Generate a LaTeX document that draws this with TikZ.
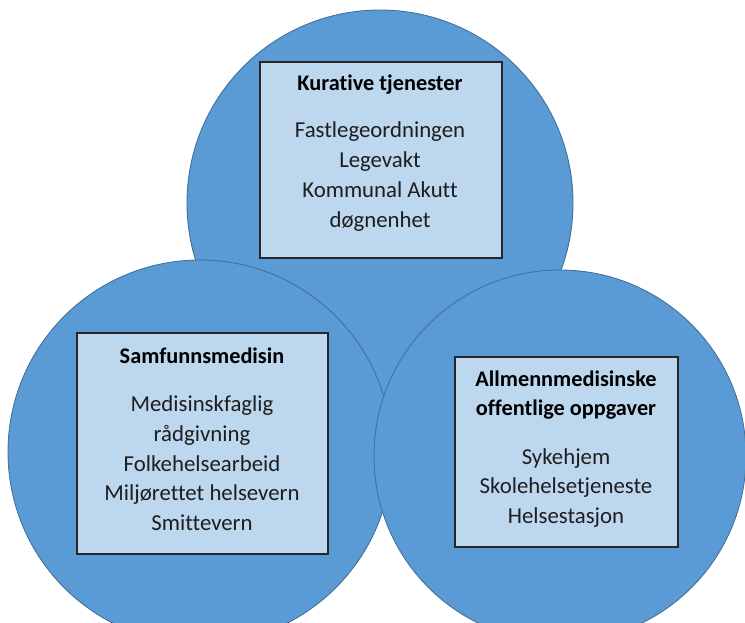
\documentclass[tikz,border=0pt]{standalone}
\usepackage{fontspec}
\setmainfont{Carlito}[Ligatures={NoCommon,NoContextual,NoRequired}]
\definecolor{circfill}{HTML}{5B9BD5}
\definecolor{circline}{HTML}{41719C}
\definecolor{boxfill}{HTML}{BDD7EE}
\definecolor{boxline}{HTML}{262626}
\definecolor{txtcol}{HTML}{1E1E1E}
\tikzset{
  circ/.style={circle, fill=circfill, draw=circline, line width=0.9pt, inner sep=0pt},
  box/.style={rectangle, fill=boxfill, draw=boxline, line width=1.6pt, inner sep=0pt},
  txt/.style={anchor=base, inner sep=0pt, text=txtcol, font=\fontsize{22.8}{26}\selectfont},
  ttl/.style={txt, text=black, font=\fontsize{22.3}{26}\selectfont\bfseries}
}
\begin{document}
\begin{tikzpicture}[x=1pt,y=-1pt]
\useasboundingbox (0,0) rectangle (745,623);
\node[circ, minimum size=386] (ctop) at (380,203) {};
\node[circ, minimum size=384] (cleft) at (200,452) {};
\node[circ, minimum size=372] (cright) at (560,456) {};
% top box
\node[box, minimum width=242, minimum height=196] (kbox) at (381,160) {};
\node[ttl] (k0) at (380,91) {Kurative tjenester};
\foreach \t [count=\i] in {Fastlegeordningen, Legevakt, Kommunal Akutt, døgnenhet}
  \node[txt] (k\i) at (380,{107.7+30*\i}) {\t};
% left box
\node[box, minimum width=251, minimum height=221] (sbox) at (202.5,443.5) {};
\node[ttl] (s0) at (202,363) {Samfunnsmedisin};
\foreach \t [count=\i] in {Medisinskfaglig, rådgivning, Folkehelsearbeid, Miljørettet helsevern, Smittevern}
  \node[txt] (s\i) at (202,{382+29.7*\i}) {\t};
% right box
\node[box, minimum width=223, minimum height=190] (abox) at (566.5,452) {};
\node[ttl] (a0) at (566,386) {Allmennmedisinske};
\node[ttl] (a00) at (566,415.7) {offentlige oppgaver};
\foreach \t [count=\i] in {Sykehjem, Skolehelsetjeneste, Helsestasjon}
  \node[txt] (a\i) at (566,{434.5+29.6*\i}) {\t};
\end{tikzpicture}
\end{document}
